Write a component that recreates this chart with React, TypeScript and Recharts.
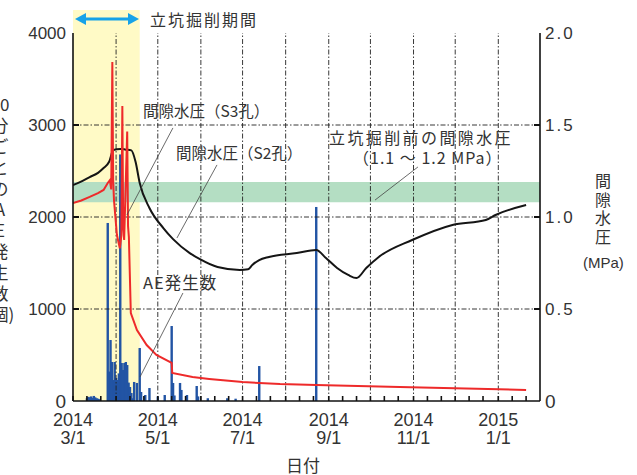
import { ComposedChart, Bar, Line, XAxis, YAxis, ReferenceArea, ReferenceLine } from 'recharts'

// all x values are days counted from 2014/3/1
const aeDays = [10, 11, 12, 13, 14, 15, 16, 17, 18, 19, 25, 26, 27, 28, 29, 30, 31, 32, 33, 34, 35, 36, 37, 38, 39, 40, 41, 42, 43, 44, 46, 48, 49, 52, 55, 61, 66, 71, 72, 73, 77, 78, 82, 89, 90, 97, 111, 117, 134, 175]
const aeCounts = [30, 45, 40, 50, 35, 55, 40, 30, 25, 20, 1935, 320, 663, 424, 228, 424, 250, 228, 300, 2680, 413, 337, 413, 424, 391, 200, 152, 87, 30, 207, 196, 576, 98, 65, 141, 50, 65, 815, 196, 60, 196, 120, 65, 163, 50, 30, 30, 25, 380, 2109]

const s2Days = [0, 5, 12, 18, 22, 26, 29, 34, 38, 42, 45, 48, 55, 65, 72, 84, 91, 104, 120, 126, 129, 134, 141, 161, 175, 182, 190, 198, 204, 211, 220, 244, 273, 297, 304, 326]
const s2MPa = [1.174, 1.19, 1.217, 1.24, 1.266, 1.3, 1.364, 1.37, 1.366, 1.362, 1.3, 1.185, 1.049, 0.94, 0.88, 0.804, 0.772, 0.728, 0.712, 0.716, 0.739, 0.766, 0.783, 0.804, 0.821, 0.777, 0.723, 0.685, 0.668, 0.723, 0.783, 0.875, 0.957, 0.984, 1.011, 1.065]

const s3Days = [0, 6, 12, 18, 22, 25, 26.5, 27.5, 28.3, 28.9, 29.5, 31.6, 33.7, 34.8, 35.5, 36.1, 36.8, 39, 39.6, 40.2, 41.6, 46, 53, 60, 71, 71.4, 86, 98, 122, 149, 175, 235, 326]
const s3MPa = [1.076, 1.09, 1.109, 1.13, 1.147, 1.185, 1.2, 1.15, 1.842, 1.2, 1.09, 0.902, 0.83, 0.9, 1.603, 0.95, 0.875, 1.464, 0.95, 0.891, 0.478, 0.386, 0.304, 0.25, 0.207, 0.152, 0.13, 0.12, 0.103, 0.092, 0.087, 0.076, 0.06]

const monthDays = [0, 31, 61, 92, 122, 153, 184, 214, 245, 275, 306]
const labelDays = [0, 61, 122, 184, 245, 306]
const labelYears = ['2014', '2014', '2014', '2014', '2014', '2015']
const labelDates = ['3/1', '5/1', '7/1', '9/1', '11/1', '1/1']
const aeTicks = [0, 1000, 2000, 3000, 4000]
const mpaTicks = [0, 0.5, 1, 1.5, 2]

const excavationEnd = 48
const preBand = [1.08, 1.19]

const rows = new Map<number, any>()
const put = (d: number, k: string, v: number) => {
  const r = rows.get(d) ?? { day: d }
  r[k] = v
  rows.set(d, r)
}
aeDays.forEach((d, i) => put(d, 'ae', aeCounts[i]))
s2Days.forEach((d, i) => put(d, 's2', s2MPa[i]))
s3Days.forEach((d, i) => put(d, 's3', s3MPa[i]))
const data = [...rows.values()].sort((a, b) => a.day - b.day)

const minorTicks = monthDays.flatMap(d => [d, d + 10, d + 20])

const numFont = "'Liberation Sans Narrow', 'Liberation Sans', Arial, sans-serif"
const jpFont = "'Noto Sans CJK JP', sans-serif"
const textColor = '#333'

function BottomTick({ x, y, payload }: any) {
  const i = labelDays.indexOf(payload.value)
  return (
    <g>
      <line x1={x} x2={x} y1={y} y2={y - 5} stroke="#111" strokeWidth={1.6} />
      {i >= 0 && (
        <>
          <text x={x} y={y + 25} textAnchor="middle" fontSize={18} fontFamily={numFont} fill={textColor}>
            {labelYears[i]}
          </text>
          <text x={x} y={y + 43} textAnchor="middle" fontSize={18} fontFamily={numFont} fill={textColor}>
            {labelDates[i]}
          </text>
        </>
      )}
    </g>
  )
}

function TopTick({ x, y }: any) {
  return <line x1={x} x2={x} y1={y} y2={y + 5} stroke="#111" strokeWidth={1.6} />
}

function LeftTick({ x, y, payload }: any) {
  const v = payload.value
  return (
    <g>
      {v > 0 && v < 4000 && <line x1={x} x2={x + 6} y1={y} y2={y} stroke="#111" strokeWidth={2} />}
      <text x={x - 7} y={y} dy="0.36em" textAnchor="end" fontSize={v === 0 ? 19 : 17} fontFamily={numFont} fill={textColor}>
        {v}
      </text>
    </g>
  )
}

function RightTick({ x, y, payload }: any) {
  const v = payload.value
  return (
    <g>
      {v > 0 && v < 2 && <line x1={x} x2={x - 6} y1={y} y2={y} stroke="#111" strokeWidth={2} />}
      <text x={x + 5} y={y} dy="0.36em" textAnchor="start" fontSize={v === 0 ? 19 : 17} letterSpacing={v === 0 ? 0 : 2} fontFamily={numFont} fill={textColor}>
        {v === 0 ? '0' : v.toFixed(1)}
      </text>
    </g>
  )
}

// thin bars of fixed width, centred on the slot the library computes
function AeBar({ x, y, width, height, fill }: any) {
  if (!height || height <= 0) return null
  return <rect x={x + width / 2 - 1.2} y={y} width={2.4} height={height} fill={fill} />
}

const gridStyle = { stroke: '#222', strokeWidth: 0.9, strokeDasharray: '5 2 1.5 2' }
const leaderStyle = { stroke: '#444', strokeWidth: 0.8 }

const leftLabel = ['10', '分', 'ご', 'と', 'の', 'A', 'E', '発', '生', '数', '(個)']

const abs = (left: number, top: number, extra: any = {}) => ({
  position: 'absolute' as const,
  left,
  top,
  fontFamily: jpFont,
  fontSize: 16,
  color: textColor,
  whiteSpace: 'nowrap' as const,
  lineHeight: '20px',
  ...extra,
})

export default function App() {
  return (
    <div style={{ position: 'absolute', left: 0, top: 0, width: 637, height: 475, background: '#fff', overflow: 'hidden' }}>
      <ComposedChart width={637} height={475} data={data} margin={{ top: 33, right: 57, bottom: 24, left: 13 }}>
        <XAxis
          dataKey="day"
          type="number"
          domain={[0, 336]}
          ticks={minorTicks}
          interval={0}
          tick={<BottomTick />}
          tickSize={0}
          tickMargin={0}
          height={50}
          axisLine={{ stroke: '#111', strokeWidth: 1.6 }}
          allowDataOverflow
        />
        <XAxis
          xAxisId="top"
          orientation="top"
          dataKey="day"
          type="number"
          domain={[0, 336]}
          ticks={minorTicks}
          interval={0}
          tick={<TopTick />}
          tickSize={0}
          tickMargin={0}
          height={0}
          axisLine={{ stroke: '#111', strokeWidth: 1.6 }}
          allowDataOverflow
        />
        <YAxis
          yAxisId="left"
          domain={[0, 4000]}
          ticks={aeTicks}
          interval={0}
          tick={<LeftTick />}
          tickSize={0}
          tickMargin={0}
          width={60}
          axisLine={{ stroke: '#111', strokeWidth: 1.6 }}
        />
        <YAxis
          yAxisId="right"
          orientation="right"
          domain={[0, 2]}
          ticks={mpaTicks}
          interval={0}
          tick={<RightTick />}
          tickSize={0}
          tickMargin={0}
          width={40}
          axisLine={{ stroke: '#111', strokeWidth: 1.6 }}
        />
        <ReferenceArea yAxisId="left" x1={0} x2={excavationEnd} y1={0} y2={4250} fill="#fffac6" fillOpacity={1} ifOverflow="visible" />
        <ReferenceArea yAxisId="right" x1={0} x2={336} y1={preBand[0]} y2={preBand[1]} fill="#b4dec3" fillOpacity={1} />
        {monthDays.slice(1).map(d => (
          <ReferenceLine key={'v' + d} yAxisId="left" x={d} {...gridStyle} />
        ))}
        {aeTicks.slice(1, 4).map(v => (
          <ReferenceLine key={'h' + v} yAxisId="left" y={v} {...gridStyle} />
        ))}
        <Bar yAxisId="left" dataKey="ae" fill="#2254a4" shape={<AeBar />} isAnimationActive={false} />
        <Line yAxisId="right" dataKey="s2" type="monotone" stroke="#151515" strokeWidth={2} dot={false} connectNulls isAnimationActive={false} />
        <Line yAxisId="right" dataKey="s3" type="linear" stroke="#ee2a2a" strokeWidth={2} dot={false} connectNulls isAnimationActive={false} />
        <ReferenceLine yAxisId="right" segment={[{ x: 71.9, y: 1.484 }, { x: 38.8, y: 1.011 }]} {...leaderStyle} />
        <ReferenceLine yAxisId="right" segment={[{ x: 103.6, y: 1.283 }, { x: 74.8, y: 0.886 }]} {...leaderStyle} />
        <ReferenceLine yAxisId="left" segment={[{ x: 79.1, y: 1174 }, { x: 48.2, y: 261 }]} {...leaderStyle} />
        <ReferenceLine yAxisId="right" segment={[{ x: 248.2, y: 1.272 }, { x: 217.3, y: 1.092 }]} {...leaderStyle} />
      </ComposedChart>

      <svg style={{ position: 'absolute', left: 0, top: 0 }} width={637} height={40}>
        <line x1={84} x2={130} y1={19} y2={19} stroke="#17a2e8" strokeWidth={3} />
        <polygon points="75,19 86,13 86,25" fill="#17a2e8" />
        <polygon points="139,19 128,13 128,25" fill="#17a2e8" />
      </svg>
      <div style={abs(150, 9, { letterSpacing: 2 })}>立坑掘削期間</div>

      <div style={abs(143, 100, { fontSize: 15.5 })}>間隙水圧（S3孔）</div>
      <div style={abs(176, 142, { fontSize: 15.5 })}>間隙水圧（S2孔）</div>
      <div style={abs(143, 272, { fontSize: 16.5, letterSpacing: 1 })}>AE発生数</div>
      <div style={abs(329, 127, { letterSpacing: 2.4 })}>立坑掘削前の間隙水圧</div>
      <div style={abs(353, 147, { letterSpacing: 1 })}>（1.1 ～ 1.2 MPa）</div>

      <div style={{ position: 'absolute', left: -11, top: 93, width: 22 }}>
        {leftLabel.map((c, i) => (
          <div key={i} style={{ height: 21, lineHeight: '21px', fontFamily: jpFont, fontSize: 17, color: textColor, whiteSpace: 'nowrap', display: 'flex', justifyContent: 'center' }}>
            {c}
          </div>
        ))}
      </div>
      <div style={abs(594, 173, { writingMode: 'vertical-rl', fontSize: 16, lineHeight: '18px', letterSpacing: 2.5 })}>間隙水圧</div>
      <div style={abs(583, 253, { fontSize: 15, fontFamily: numFont })}>(MPa)</div>

      <div style={abs(286, 455, { fontSize: 17 })}>日付</div>
    </div>
  )
}
